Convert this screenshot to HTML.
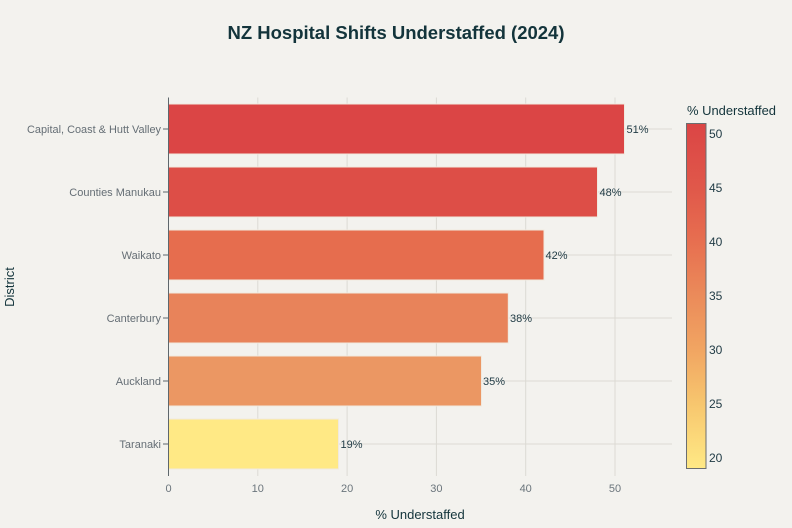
<!DOCTYPE html>
<html><head><meta charset="utf-8"><style>
html,body{margin:0;padding:0;background:#F3F2EE;}
svg{display:block;font-family:"Liberation Sans",Arial,sans-serif;}
</style></head><body>
<svg width="792" height="528" viewBox="0 0 792 528" xmlns="http://www.w3.org/2000/svg">
<defs>
<linearGradient id="cb" x1="0" y1="0" x2="0" y2="1">
<stop offset="0" stop-color="#DB4545"/>
<stop offset="0.1875" stop-color="#E0584A"/>
<stop offset="0.344" stop-color="#E76F50"/>
<stop offset="0.5" stop-color="#EB8B5A"/>
<stop offset="0.656" stop-color="#F1A562"/>
<stop offset="0.8125" stop-color="#F7C66E"/>
<stop offset="1" stop-color="#FFE985"/>
</linearGradient>
</defs>
<rect width="792" height="528" fill="#F3F2EE"/>
<text x="396" y="39" text-anchor="middle" font-size="18" font-weight="bold" fill="#13343B" textLength="337" lengthAdjust="spacingAndGlyphs">NZ Hospital Shifts Understaffed (2024)</text>

<!-- gridlines -->
<g stroke="#DCDAD4" stroke-width="1">
<line x1="257.8" y1="97.5" x2="257.8" y2="476"/>
<line x1="347.1" y1="97.5" x2="347.1" y2="476"/>
<line x1="436.4" y1="97.5" x2="436.4" y2="476"/>
<line x1="525.7" y1="97.5" x2="525.7" y2="476"/>
<line x1="615" y1="97.5" x2="615" y2="476"/>
<line x1="168.5" y1="129" x2="672" y2="129"/>
<line x1="168.5" y1="192" x2="672" y2="192"/>
<line x1="168.5" y1="255" x2="672" y2="255"/>
<line x1="168.5" y1="318" x2="672" y2="318"/>
<line x1="168.5" y1="381" x2="672" y2="381"/>
<line x1="168.5" y1="444" x2="672" y2="444"/>
</g>

<!-- bars -->
<g stroke="#F0E9DF" stroke-width="1">
<rect x="168.5" y="104" width="456" height="50" fill="#DB4545"/>
<rect x="168.5" y="167" width="429" height="50" fill="#DD4E47"/>
<rect x="168.5" y="230" width="375.5" height="50" fill="#E66D4E"/>
<rect x="168.5" y="293" width="339.8" height="50" fill="#E8835A"/>
<rect x="168.5" y="356" width="313" height="50" fill="#EB9763"/>
<rect x="168.5" y="419" width="170" height="50" fill="#FFE985"/>
</g>

<!-- zero line & ticks -->
<line x1="168.5" y1="97.5" x2="168.5" y2="476" stroke="#5E676C" stroke-width="1"/>
<g stroke="#5E676C" stroke-width="1">
<line x1="163" y1="129" x2="168" y2="129"/>
<line x1="163" y1="192" x2="168" y2="192"/>
<line x1="163" y1="255" x2="168" y2="255"/>
<line x1="163" y1="318" x2="168" y2="318"/>
<line x1="163" y1="381" x2="168" y2="381"/>
<line x1="163" y1="444" x2="168" y2="444"/>
</g>

<!-- value labels -->
<g font-size="11" fill="#1F3A44">
<text x="626.5" y="133">51%</text>
<text x="599.5" y="196">48%</text>
<text x="545.5" y="259">42%</text>
<text x="510" y="322">38%</text>
<text x="483" y="385">35%</text>
<text x="340.5" y="448">19%</text>
</g>

<!-- y tick labels -->
<g font-size="11" fill="#656E75" text-anchor="end">
<text x="161" y="133" textLength="134" lengthAdjust="spacingAndGlyphs">Capital, Coast &amp; Hutt Valley</text>
<text x="161" y="196">Counties Manukau</text>
<text x="161" y="259">Waikato</text>
<text x="161" y="322">Canterbury</text>
<text x="161" y="385">Auckland</text>
<text x="161" y="448">Taranaki</text>
</g>

<!-- x tick labels -->
<g font-size="11" fill="#6B757C" text-anchor="middle">
<text x="168.5" y="492">0</text>
<text x="257.8" y="492">10</text>
<text x="347.1" y="492">20</text>
<text x="436.4" y="492">30</text>
<text x="525.7" y="492">40</text>
<text x="615" y="492">50</text>
</g>

<text x="420" y="519" text-anchor="middle" font-size="13" fill="#13343B">% Understaffed</text>
<text transform="translate(14,287) rotate(-90)" text-anchor="middle" font-size="13" fill="#13343B">District</text>

<!-- colorbar -->
<text x="687" y="115" font-size="12.5" fill="#13343B" textLength="89" lengthAdjust="spacingAndGlyphs">% Understaffed</text>
<rect x="686.5" y="123.5" width="19.5" height="345" fill="url(#cb)" stroke="#6B6E70" stroke-width="1"/>
<g font-size="12" fill="#1F3A44">
<text x="709" y="138">50</text>
<text x="709" y="192">45</text>
<text x="709" y="246">40</text>
<text x="709" y="300">35</text>
<text x="709" y="354">30</text>
<text x="709" y="408">25</text>
<text x="709" y="462">20</text>
</g>
</svg>
</body></html>
